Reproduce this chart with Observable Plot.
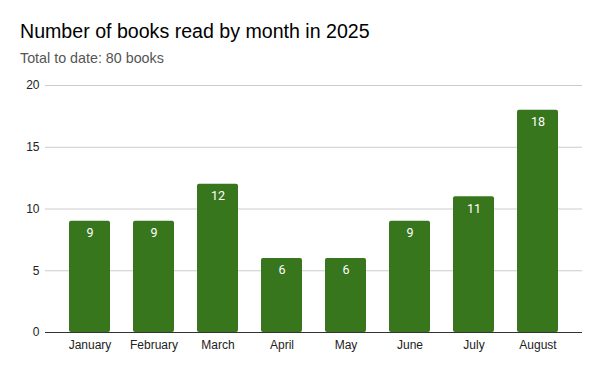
<!DOCTYPE html>
<html>
<head>
<meta charset="utf-8">
<script src="https://cdn.jsdelivr.net/npm/d3@7"></script>
<script src="https://cdn.jsdelivr.net/npm/@observablehq/plot@0.6"></script>
<style>
  html, body { margin: 0; padding: 0; background: #fff; }
  #wrap { position: relative; width: 600px; height: 371px; overflow: hidden; background: #fff; }
  #title { position: absolute; left: 20px; top: 21px; font: 19.6px/20px "Liberation Sans", Arial, sans-serif; color: #000; white-space: nowrap; }
  #subtitle { position: absolute; left: 20px; top: 51px; font: 14.3px/15px "Liberation Sans", Arial, sans-serif; color: #555; white-space: nowrap; }
  #chart { position: absolute; left: 0; top: 70px; }
</style>
</head>
<body>
<div id="wrap">
  <div id="title">Number of books read by month in 2025</div>
  <div id="subtitle">Total to date: 80 books</div>
  <div id="chart"></div>
</div>
<script>
const months = ["January", "February", "March", "April", "May", "June", "July", "August"];
const books = [9, 9, 12, 6, 6, 9, 11, 18];
const yTicks = [0, 5, 10, 15, 20];

const data = months.map((m, i) => ({month: m, books: books[i]}));

const chart = Plot.plot({
  width: 600,
  height: 301,
  marginTop: 15,
  marginBottom: 39,
  marginLeft: 45,
  marginRight: 18,
  style: {fontFamily: "'Liberation Sans', Arial, sans-serif", fontSize: "12px", color: "#222", background: "white", overflow: "visible"},
  x: {domain: months, padding: 0.36, label: null},
  y: {domain: [0, 20], label: null},
  marks: [
    Plot.gridY(yTicks.filter(d => d > 0), {stroke: "#ccc", strokeOpacity: 1}),
    Plot.barY(data, {x: "month", y: "books", fill: "#38761d", rx: 2}),
    Plot.ruleY([0], {stroke: "#333", strokeWidth: 1}),
    Plot.text(data, {x: "month", y: "books", text: d => String(d.books), dy: 12, fill: "white", fontFamily: "Roboto, sans-serif", fontSize: 12.5}),
    Plot.axisX({tickSize: 0, tickPadding: 8, label: null}),
    Plot.axisY({ticks: yTicks, tickSize: 0, tickPadding: 6, label: null})
  ]
});
document.getElementById("chart").appendChild(chart);
</script>
</body>
</html>
